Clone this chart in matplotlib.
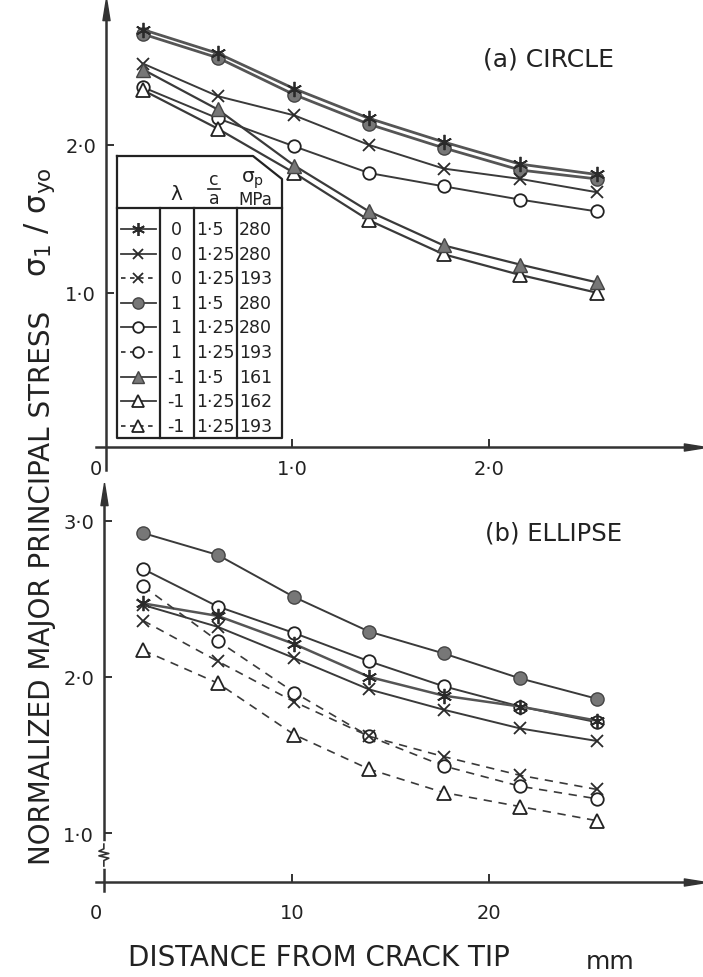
import matplotlib
matplotlib.use('Agg')
import matplotlib.pyplot as plt
from matplotlib.lines import Line2D

W, H = 703, 978
plt.rcParams['font.family'] = ['DejaVu Sans']
plt.rcParams['mathtext.fontset'] = 'dejavusans'

# ---------------- data ----------------
distance_circle = [0.24, 0.62, 1.01, 1.39, 1.77, 2.16, 2.55]   # panel (a) axis units
distance_ellipse = [2.4, 6.2, 10.1, 13.9, 17.7, 21.6, 25.5]   # panel (b), mm

# (a) CIRCLE
circ_ast_15_280 = [2.78, 2.62, 2.38, 2.18, 2.02, 1.87, 1.80]
circ_x_125_280 = [2.55, 2.33, 2.20, 2.00, 1.84, 1.77, 1.68]
circ_fc_15_280 = [2.75, 2.59, 2.34, 2.14, 1.98, 1.83, 1.77]
circ_oc_125_280 = [2.39, 2.18, 1.99, 1.81, 1.72, 1.63, 1.55]
circ_ft_15_161 = [2.51, 2.24, 1.86, 1.55, 1.32, 1.19, 1.07]
circ_ot_125_162 = [2.37, 2.11, 1.81, 1.49, 1.26, 1.12, 1.00]

# (b) ELLIPSE
ell_fc_15_280 = [2.92, 2.78, 2.51, 2.29, 2.15, 1.99, 1.86]
ell_oc_125_280 = [2.69, 2.45, 2.28, 2.10, 1.94, 1.81, 1.71]
ell_ast_15_280 = [2.47, 2.39, 2.21, 2.00, 1.88, 1.81, 1.72]
ell_x_125_280 = [2.46, 2.32, 2.12, 1.92, 1.79, 1.67, 1.59]
ell_oc_125_193 = [2.58, 2.23, 1.90, 1.62, 1.43, 1.30, 1.22]
ell_x_125_193 = [2.36, 2.10, 1.84, 1.62, 1.49, 1.37, 1.28]
ell_ot_125_193 = [2.17, 1.96, 1.63, 1.41, 1.26, 1.17, 1.08]

# legend table
leg_keys = ['ast', 'x', 'x_d', 'fc', 'oc', 'oc_d', 'ft', 'ot', 'ot_d']
leg_lambda = ['0', '0', '0', '1', '1', '1', '-1', '-1', '-1']
leg_ca = ['1·5', '1·25', '1·25', '1·5', '1·25', '1·25', '1·5', '1·25', '1·25']
leg_sp = ['280', '280', '193', '280', '280', '193', '161', '162', '193']

circ_xticks = [0, 1, 2]
circ_xticklabels = ['0', '1·0', '2·0']
circ_yticks = [1, 2]
circ_yticklabels = ['1·0', '2·0']
ell_xticks = [0, 10, 20]
ell_xticklabels = ['0', '10', '20']
ell_yticks = [1, 2, 3]
ell_yticklabels = ['1·0', '2·0', '3·0']

# ---------------- styles ----------------
LC = '#3a3a3a'
GRAY = '#777777'
DASH = (0, (5, 4))
STY = {
    'ast':  dict(marker=(6, 2, 0), ms=11, mfc='none', mec='#2a2a2a', mew=1.3, ls='-'),
    'x':    dict(marker='x', ms=8, mec='#2a2a2a', mew=1.3, ls='-'),
    'x_d':  dict(marker='x', ms=8, mec='#2a2a2a', mew=1.3, ls=DASH),
    'fc':   dict(marker='o', ms=9.5, mfc=GRAY, mec='#444444', mew=1.0, ls='-'),
    'oc':   dict(marker='o', ms=9, mfc='white', mec='#222222', mew=1.3, ls='-'),
    'oc_d': dict(marker='o', ms=9, mfc='white', mec='#222222', mew=1.3, ls=DASH),
    'ft':   dict(marker='^', ms=10, mfc=GRAY, mec='#444444', mew=1.0, ls='-'),
    'ot':   dict(marker='^', ms=10, mfc='white', mec='#222222', mew=1.3, ls='-'),
    'ot_d': dict(marker='^', ms=10, mfc='white', mec='#222222', mew=1.3, ls=DASH),
}
TXT = '#222222'


def fx(px):
    return px / W


def fy(py):
    return 1 - py / H


fig = plt.figure(figsize=(W / 100, H / 100), dpi=100)
fig.patch.set_facecolor('white')

LEFT_PX, RIGHT_PX = 96, 695
ax1 = fig.add_axes([fx(LEFT_PX), fy(471), fx(RIGHT_PX - LEFT_PX), (471 - 10) / H])
ax2 = fig.add_axes([fx(LEFT_PX), fy(892), fx(RIGHT_PX - LEFT_PX), (892 - 495) / H])

TICKFS = 14


def style_axes(ax, xlim, ylim, spine_x, spine_y, xticks, xtl, yticks, ytl, xpad, ypad):
    ax.set_xlim(*xlim)
    ax.set_ylim(*ylim)
    ax.set_facecolor('none')
    for s in ['top', 'right']:
        ax.spines[s].set_visible(False)
    ax.spines['left'].set_position(('data', spine_x))
    ax.spines['bottom'].set_position(('data', spine_y))
    for s in ['left', 'bottom']:
        ax.spines[s].set_linewidth(1.8)
        ax.spines[s].set_color('#333333')
    ax.set_xticks(xticks)
    ax.set_xticklabels(xtl, fontsize=TICKFS)
    ax.set_yticks(yticks)
    ax.set_yticklabels(ytl, fontsize=TICKFS)
    ax.tick_params(axis='x', direction='in', length=6, width=1.3, pad=xpad, colors=TXT)
    ax.tick_params(axis='y', direction='in', length=6, width=1.3, pad=ypad, colors=TXT)
    ax.xaxis.get_major_ticks()[0].tick1line.set_visible(False)
    up = [(0, 1), (-0.32, -1), (0.32, -1), (0, 1)]
    right = [(1, 0), (-1, 0.32), (-1, -0.32), (1, 0)]
    ax.plot([spine_x], [1], marker=up, ms=16, color='#333333',
            transform=ax.get_xaxis_transform(), clip_on=False)
    ax.plot([1.0], [spine_y], marker=right, ms=16, color='#333333',
            transform=ax.get_yaxis_transform(), clip_on=False)


style_axes(ax1, (0, 3.05), (-0.2, 2.92), 0.05, -0.047,
           circ_xticks, circ_xticklabels, circ_yticks, circ_yticklabels, 8, 7)
style_axes(ax2, (0, 30.5), (0.63, 3.17), 0.4, 0.686,
           ell_xticks, ell_xticklabels, ell_yticks, ell_yticklabels, 15, 7)


def draw(ax, xs, ys, key, lw=1.4, lc=LC):
    st = dict(STY[key])
    ls = st.pop('ls')
    ax.plot(xs, ys, color=lc, lw=lw, ls=ls, zorder=2, **st)


# (a) CIRCLE
draw(ax1, distance_circle, circ_fc_15_280, 'fc', lw=2.0, lc='#555555')
draw(ax1, distance_circle, circ_ast_15_280, 'ast', lw=2.0, lc='#555555')
draw(ax1, distance_circle, circ_x_125_280, 'x')
draw(ax1, distance_circle, circ_oc_125_280, 'oc')
draw(ax1, distance_circle, circ_ot_125_162, 'ot', lw=1.6)
draw(ax1, distance_circle, circ_ft_15_161, 'ft', lw=1.6)

# (b) ELLIPSE
draw(ax2, distance_ellipse, ell_fc_15_280, 'fc')
draw(ax2, distance_ellipse, ell_oc_125_280, 'oc')
draw(ax2, distance_ellipse, ell_ast_15_280, 'ast', lw=1.8, lc='#555555')
draw(ax2, distance_ellipse, ell_x_125_280, 'x')
draw(ax2, distance_ellipse, ell_oc_125_193, 'oc_d', lw=1.2)
draw(ax2, distance_ellipse, ell_x_125_193, 'x_d', lw=1.2)
draw(ax2, distance_ellipse, ell_ot_125_193, 'ot_d', lw=1.2)

# axis break on (b) y-axis
ax2.plot([0.4, 0.4], [0.79, 0.93], color='white', lw=4, zorder=3, clip_on=False)
ax2.plot([0.4, 0.4, 0.15, 0.65, 0.15, 0.65, 0.4, 0.4],
         [0.93, 0.90, 0.885, 0.87, 0.855, 0.84, 0.825, 0.79],
         color='#333333', lw=1.2, zorder=4, clip_on=False)

# panel titles
fig.text(fx(483), fy(60), '(a) CIRCLE', fontsize=18, ha='left', va='center', color=TXT)
fig.text(fx(485), fy(533), '(b) ELLIPSE', fontsize=17.5, ha='left', va='center', color=TXT)

# axis labels
fig.text(fx(42), fy(588), 'NORMALIZED MAJOR PRINCIPAL STRESS', rotation=90,
         ha='center', va='center', fontsize=20, color=TXT)
fig.text(fx(40), fy(222), 'σ$_\\mathregular{1}$ / σ$_\\mathregular{yo}$', rotation=90,
         ha='center', va='center', fontsize=22, color=TXT)
fig.text(fx(128), fy(958), 'DISTANCE FROM CRACK TIP', fontsize=20, ha='left',
         va='center', color=TXT)
fig.text(fx(586), fy(962), 'mm', fontsize=18, ha='left', va='center', color=TXT)

# ---------------- legend table ----------------
TL = dict(color='#222222', lw=1.6)
box_x = [117, 253, 282, 282, 117, 117]
box_y = [157, 157, 180, 439, 439, 157]
fig.add_artist(Line2D([fx(v) for v in box_x], [fy(v) for v in box_y], **TL))
fig.add_artist(Line2D([fx(117), fx(282)], [fy(209), fy(209)], **TL))
for cx in [160, 194, 237]:
    fig.add_artist(Line2D([fx(cx), fx(cx)], [fy(209), fy(439)], **TL))

LEGFS = 12.5
fig.text(fx(176), fy(194), 'λ', fontsize=LEGFS + 2, ha='center', va='center', color=TXT)
fig.text(fx(214), fy(180), 'c', fontsize=LEGFS, ha='center', va='center', color=TXT)
fig.add_artist(Line2D([fx(208), fx(220)], [fy(190), fy(190)], color=TXT, lw=1.2))
fig.text(fx(214), fy(199), 'a', fontsize=LEGFS, ha='center', va='center', color=TXT)
fig.text(fx(241), fy(180), 'σ$_\\mathregular{p}$', fontsize=LEGFS + 2, ha='left', va='center', color=TXT)
fig.text(fx(238), fy(200), 'MPa', fontsize=LEGFS - 0.5, ha='left', va='center', color=TXT)

for i, key in enumerate(leg_keys):
    yy = 230 + 24.6 * i
    st = dict(STY[key])
    ls = st.pop('ls')
    if ls == DASH:
        ls = (0, (2.5, 2.5))
    ms = st.pop('ms')
    fig.add_artist(Line2D([fx(121), fx(156)], [fy(yy), fy(yy)], color=LC, lw=1.3, ls=ls))
    fig.add_artist(Line2D([fx(138)], [fy(yy)], ls='none', ms=ms * 0.85, **st))
    fig.text(fx(176), fy(yy), leg_lambda[i], fontsize=LEGFS, ha='center', va='center', color=TXT)
    fig.text(fx(196.5), fy(yy), leg_ca[i], fontsize=LEGFS, ha='left', va='center', color=TXT)
    fig.text(fx(239), fy(yy), leg_sp[i], fontsize=LEGFS, ha='left', va='center', color=TXT)

fig.savefig('out.png', dpi=100, facecolor='white')
